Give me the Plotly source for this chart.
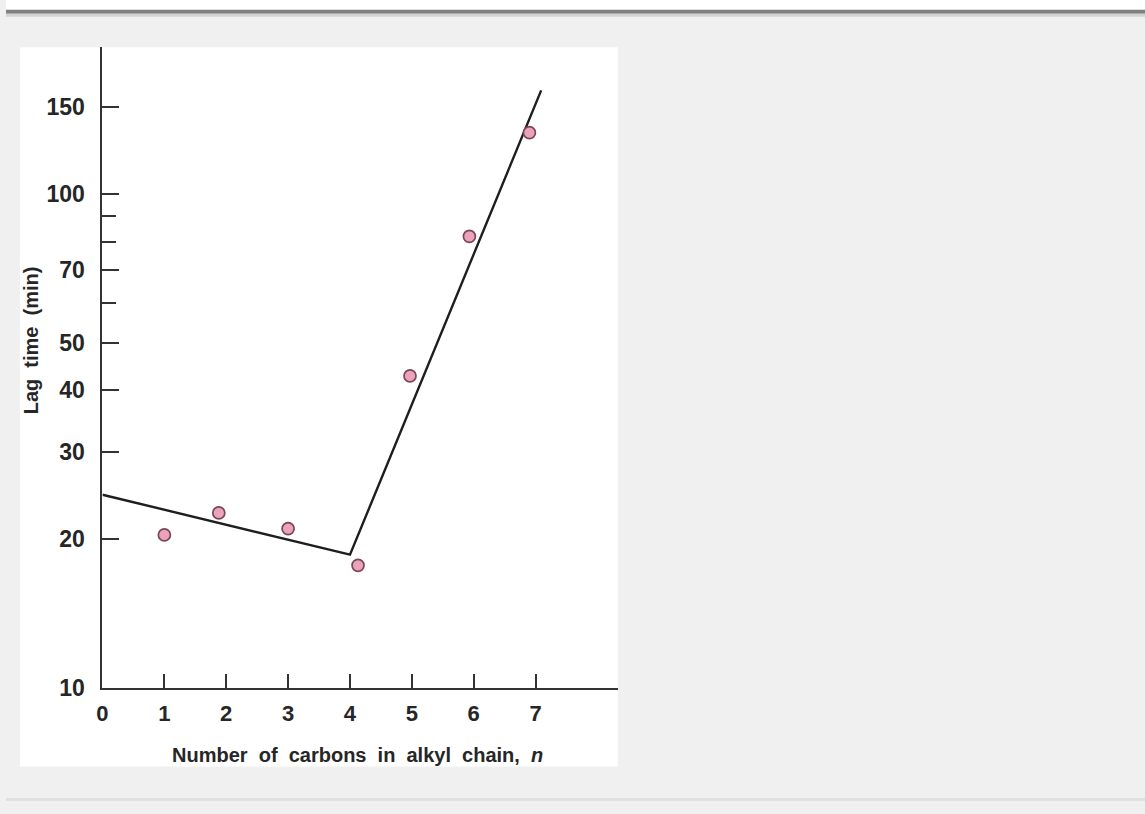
import plotly.graph_objects as go

W, H = 1145, 814

# measured lag times
n_carbons = [1, 1.88, 3.0, 4.13, 4.97, 5.93, 6.9]
lag_time = [20.4, 22.6, 21.0, 17.7, 42.8, 82, 133]

# fitted two-segment trend
fit_n = [0, 4.0, 7.09]
fit_lag = [24.6, 18.6, 162]

x_ticks = [0, 1, 2, 3, 4, 5, 6, 7]
y_ticks = [10, 20, 30, 40, 50, 70, 100, 150]
y_minor = [60, 80, 90]

FONT = "Liberation Sans"
INK = "#262626"
SP = "&nbsp; "


def px(x):
    return x / W


def py(y):
    return 1 - y / H


fig = go.Figure()

fig.add_trace(go.Scatter(
    x=fit_n, y=fit_lag, mode="lines",
    line=dict(color="#1e1e1e", width=2.4),
    hoverinfo="skip", showlegend=False,
))
fig.add_trace(go.Scatter(
    x=n_carbons, y=lag_time, mode="markers",
    marker=dict(size=12, color="#eba3ba", line=dict(color="#7a4658", width=1.7)),
    showlegend=False,
))

shapes = [
    # white panel behind the chart
    dict(type="rect", xref="paper", yref="paper", x0=px(14), x1=px(615),
         y0=py(779), y1=py(48), fillcolor="white", line=dict(width=0), layer="below"),
    # header rule
    dict(type="rect", xref="paper", yref="paper", x0=0, x1=1,
         y0=py(10), y1=1, fillcolor="white", line=dict(width=0), layer="below"),
    dict(type="rect", xref="paper", yref="paper", x0=0, x1=1,
         y0=py(14), y1=py(10), fillcolor="#808080", line=dict(width=0), layer="below"),
    dict(type="rect", xref="paper", yref="paper", x0=0, x1=1,
         y0=py(17), y1=py(14), fillcolor="#d2d2d2", line=dict(width=0), layer="below"),
    # footer rule
    dict(type="rect", xref="paper", yref="paper", x0=0, x1=1,
         y0=0, y1=py(811), fillcolor="#e0e0e0", line=dict(width=0), layer="below"),
]

x_title = SP.join(["Number", "of", "carbons", "in", "alkyl", "chain,", "<i>n</i>"])
y_title = SP.join(["Lag", "time", "(min)"])

annotations = [
    dict(text="<b>" + x_title + "</b>", xref="paper", yref="paper",
         x=px(353), y=py(767), showarrow=False, xanchor="center", yanchor="middle",
         font=dict(family=FONT, size=20, color=INK)),
    dict(text="<b>" + y_title + "</b>", xref="paper", yref="paper", textangle=-90,
         x=px(26), y=py(346), showarrow=False, xanchor="center", yanchor="middle",
         font=dict(family=FONT, size=20, color=INK)),
]

fig.update_layout(
    width=W, height=H,
    margin=dict(l=0, r=0, t=0, b=0),
    paper_bgcolor="#f0f0f0",
    plot_bgcolor="rgba(0,0,0,0)",
    shapes=shapes,
    annotations=annotations,
    font=dict(family=FONT, size=20, color=INK),
    xaxis=dict(
        domain=[px(97), px(615)],
        range=[0, (615 - 97) / 62.2],
        tickvals=x_ticks, ticktext=["<b>%d</b>" % v for v in x_ticks],
        ticks="inside", ticklen=14, tickwidth=1.5, tickcolor="#333",
        showline=True, linecolor="#333", linewidth=2,
        showgrid=False, zeroline=False, ticklabelstandoff=5,
        tickfont=dict(family=FONT, size=22, color=INK),
    ),
    yaxis=dict(
        type="log",
        domain=[py(699), py(48)],
        range=[1, 1 + (699 - 48) / 502],
        tickvals=y_ticks, ticktext=["<b>%d</b>" % v for v in y_ticks],
        ticks="inside", ticklen=17, tickwidth=1.5, tickcolor="#333",
        minor=dict(tickvals=y_minor, ticks="inside", ticklen=14, tickwidth=1.5,
                   tickcolor="#333", showgrid=False),
        showline=True, linecolor="#333", linewidth=2,
        showgrid=False, zeroline=False, ticklabelstandoff=11,
        tickfont=dict(family=FONT, size=23, color=INK),
    ),
)

fig.write_html("out.html")
